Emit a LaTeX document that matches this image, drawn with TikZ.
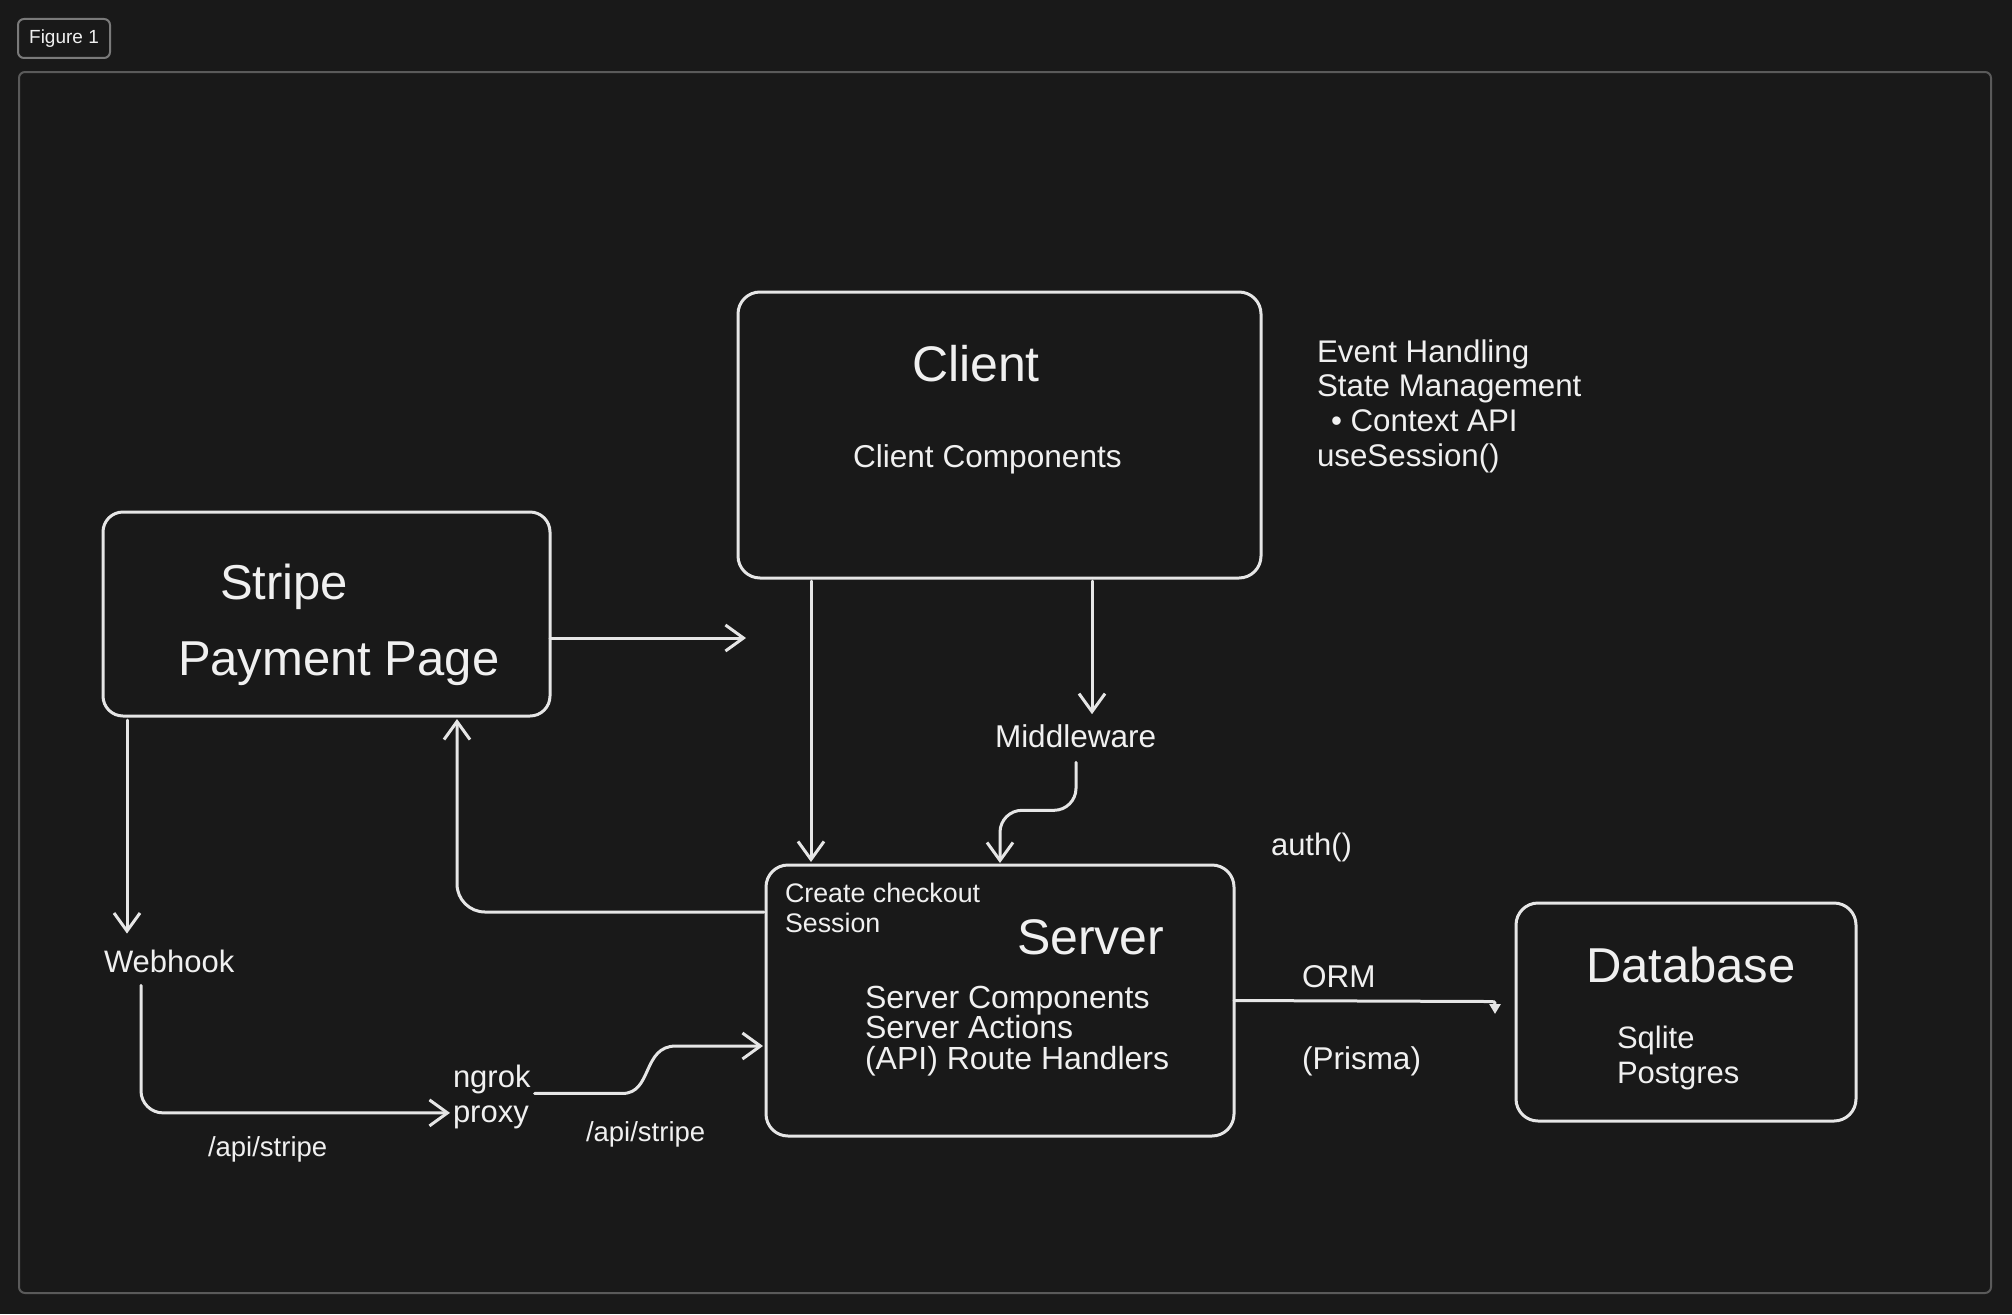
\documentclass[tikz,border=0pt]{standalone}
\usepackage{fontspec}
\setmainfont{Liberation Sans}
\usetikzlibrary{arrows.meta,calc}
\definecolor{bgc}{HTML}{191919}
\definecolor{ln}{HTML}{E6E6E6}
\definecolor{tx}{HTML}{F0F0F0}
\definecolor{frm}{HTML}{5A5A5A}
\definecolor{tagc}{HTML}{7A7A7A}
\newcommand\fsz[1]{\fontsize{#1}{#1}\selectfont}
\tikzset{
 box/.style={draw=ln, line width=3pt, rounded corners=22pt, inner sep=0pt, outer sep=0pt},
 lbl/.style={text=tx, inner sep=0pt, outer sep=0pt, anchor=base west},
 arr/.style={draw=ln, line width=3pt, line cap=round, line join=round, -{Straight Barb[length=18pt,width=26pt]}},
 ormarr/.style={draw=ln, line width=3pt, line cap=round, -{Triangle[length=10pt,width=11pt]}},
}
\begin{document}
\begin{tikzpicture}[x=1pt,y=-1pt]
\fill[bgc] (0,0) rectangle (2012,1314);
\useasboundingbox (0,0) rectangle (2012,1314);

% frame and tag
\node[draw=frm, line width=2pt, rounded corners=6pt, inner sep=0pt, minimum width=1972pt, minimum height=1221pt] (frame) at (1005,682.5) {};
\node[draw=tagc, line width=2pt, rounded corners=6pt, inner sep=0pt, minimum width=92pt, minimum height=39pt, text=tx, font=\fsz{19}] (fig) at (64,38.5) {Figure 1};

% boxes
\node[box, minimum width=523pt, minimum height=286pt] (client) at (999.5,435) {};
\node[box, rounded corners=20pt, minimum width=447pt, minimum height=204pt] (stripe) at (326.5,614) {};
\node[box, minimum width=468pt, minimum height=271pt] (server) at (1000,1000.5) {};
\node[box, minimum width=340pt, minimum height=218pt] (db) at (1686,1012) {};

% client texts
\node[lbl, font=\fsz{50}] (clientt) at (912,381) {Client};
\node[lbl, font=\fsz{31.6}] (clientc) at (853,467) {Client Components};
\node[lbl, font=\fsz{31.3}] (ev1) at (1317,362) {Event Handling};
\node[lbl, font=\fsz{31.3}] (ev2) at (1317,396) {State Management};
\node[lbl, font=\fsz{31.3}] (ev3) at (1331,431) {• Context API};
\node[lbl, font=\fsz{31.3}] (ev4) at (1317,466) {useSession()};

% stripe texts
\node[lbl, font=\fsz{49}] (stripet) at (220,599) {Stripe};
\node[lbl, font=\fsz{49}] (payt) at (178,675) {Payment Page};

% middleware, auth
\node[lbl, font=\fsz{31.5}] (mw) at (995,747) {Middleware};
\node[lbl, font=\fsz{31}] (auth) at (1271,855) {auth()};

% server texts
\node[lbl, font=\fsz{26.8}] (cc1) at (785,902) {Create checkout};
\node[lbl, font=\fsz{26.8}] (cc2) at (785,932) {Session};
\node[lbl, font=\fsz{50}] (servert) at (1017,954) {Server};
\node[lbl, font=\fsz{32}] (sc1) at (865,1008) {Server Components};
\node[lbl, font=\fsz{32}] (sc2) at (865,1038) {Server Actions};
\node[lbl, font=\fsz{32}] (sc3) at (865,1069) {(API) Route Handlers};

% webhook / ngrok
\node[lbl, font=\fsz{31}] (wh) at (104,972) {Webhook};
\node[lbl, font=\fsz{31}] (ngrok) at (453,1087) {ngrok};
\node[lbl, font=\fsz{31}] (proxy) at (453,1122) {proxy};
\node[lbl, font=\fsz{27.5}] (api1) at (208,1156) {/api/stripe};
\node[lbl, font=\fsz{27.5}] (api2) at (586,1141) {/api/stripe};

% ORM / DB
\node[lbl, font=\fsz{31.5}] (orm) at (1302,987) {ORM};
\node[lbl, font=\fsz{31.5}] (prisma) at (1302,1069) {(Prisma)};
\node[lbl, font=\fsz{49}] (dbt) at (1586,982) {Database};
\node[lbl, font=\fsz{31}] (sq) at (1617,1048) {Sqlite};
\node[lbl, font=\fsz{31}] (pg) at (1617,1083) {Postgres};

% free ends
\coordinate (stripeout) at (746,638);
\coordinate (orm1) at (1487,1001.5);
\coordinate (orm2) at (1495,1014);

% connectors
\draw[arr] (stripe.east |- stripeout) -- (stripeout);
\draw[arr] ($(client.south west)+(73,3)$) -- ($(server.north west)+(45,-3)$);
\draw[arr] ($(client.south west)+(354,3)$) -- ($(mw.north west)+(97,-10)$);
\draw[arr, rounded corners=22pt] ($(mw.south west)+(81,15)$) -- ($(mw.south west)+(81,63)$) -| ($(server.north)+(0,-2)$);
\draw[arr, rounded corners=28pt] ($(server.west)+(-2,-88.5)$) -| ($(stripe.south west)+(354,3)$);
\draw[arr] ($(stripe.south west)+(24,4)$) -- ($(wh.north west)+(23,-16)$);
\draw[arr, rounded corners=22pt] ($(wh.south west)+(37,13)$) |- ($(proxy.west)+(-3,-4)$);
\draw[arr] ($(ngrok.south east)+(4,0)$) -- ++(88,0) .. controls +(30,0) and (642,1046) .. (676,1046) -- ($(server.west)+(-3,45.5)$);
\draw[ormarr] (server.east) -- (orm1) .. controls (1495,1001.5) .. (orm2);
\end{tikzpicture}
\end{document}
